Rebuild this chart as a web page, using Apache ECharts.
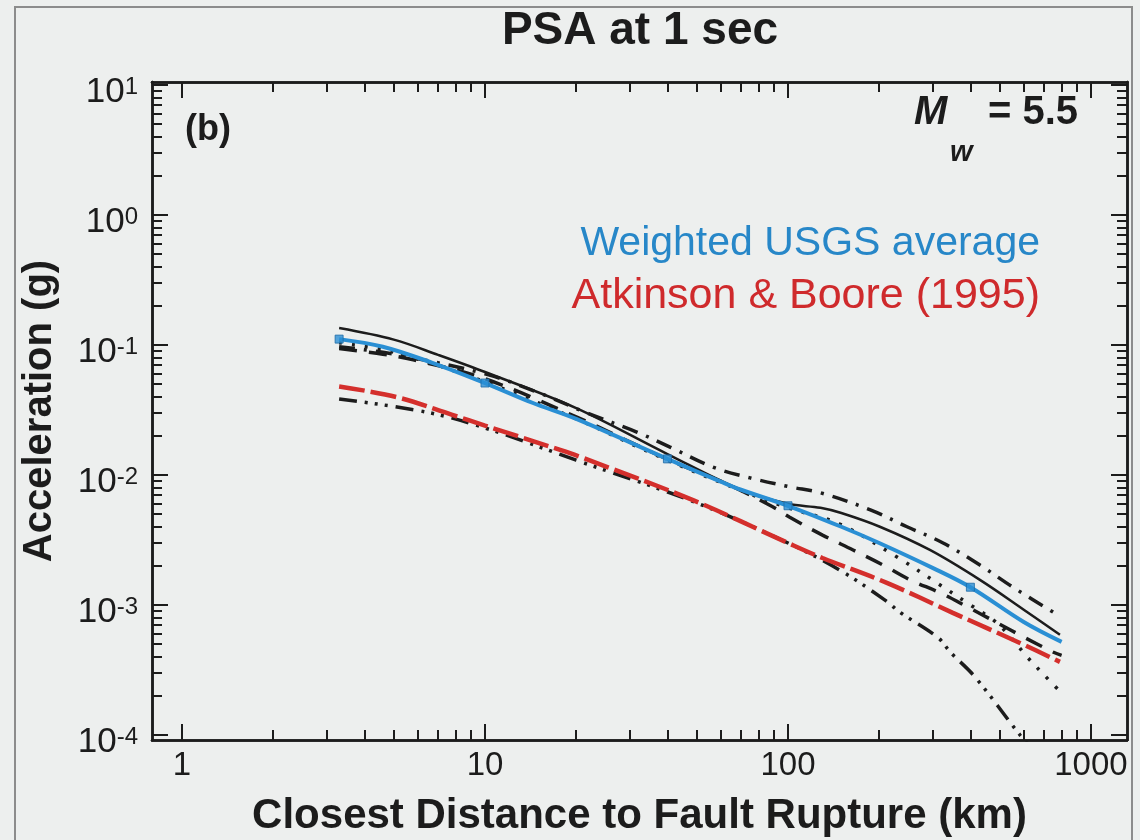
<!DOCTYPE html>
<html>
<head>
<meta charset="utf-8">
<title>PSA at 1 sec</title>
<script src="https://cdn.jsdelivr.net/npm/echarts@6.0.0/dist/echarts.min.js"></script>
<style>
  html, body { margin: 0; padding: 0; background: #edefee; }
  #chart { width: 1140px; height: 840px; }
</style>
</head>
<body>
<div id="chart"></div>
<script>
// ---- data: [distance (km), PSA (g)] ----
var usgsAverage = [
  [3.3, 0.111], [4.6, 0.097], [6.7, 0.073], [10, 0.051], [14.4, 0.0358], [20, 0.027],
  [40, 0.0133], [60, 0.0089], [70, 0.0077], [100, 0.0058], [150, 0.0040], [200, 0.0030],
  [300, 0.00193], [400, 0.00137], [600, 0.00074], [800, 0.00052]
];
var usgsMarkerDist = [3.3, 10, 40, 100, 400];

var atkinsonBoore = [
  [3.3, 0.048], [5.1, 0.0398], [7.8, 0.029], [10, 0.024], [17.7, 0.0156], [20.6, 0.0138],
  [48.6, 0.0064], [100, 0.0030], [130, 0.0023], [212, 0.00148], [350, 0.00087],
  [583, 0.00051], [790, 0.000365]
];

var modelSolid = [
  [3.3, 0.135], [5, 0.11], [7, 0.084], [10, 0.062], [20, 0.0327], [40, 0.0145], [70, 0.0077],
  [100, 0.0060], [128, 0.0056], [150, 0.0051], [201, 0.0040], [294, 0.00265], [430, 0.00156],
  [600, 0.00092], [790, 0.00059]
];

var modelDashed = [
  [3.3, 0.094], [4.6, 0.085], [5.8, 0.077], [10, 0.055], [20, 0.028], [40, 0.0132], [63, 0.0085],
  [89, 0.0057], [101, 0.00475], [130, 0.00345], [164, 0.00265], [206, 0.00203], [253, 0.00156],
  [318, 0.00124], [390, 0.00097], [490, 0.00073], [597, 0.00057], [749, 0.000435], [800, 0.00041]
];

var modelDashDot = [
  [3.3, 0.097], [5, 0.085], [10, 0.06], [15, 0.043], [21.7, 0.030], [31.7, 0.0214], [40.8, 0.0164],
  [56.5, 0.0115], [75, 0.0095], [101.6, 0.0081], [128, 0.0073], [187, 0.0054], [247, 0.0040],
  [325, 0.0030], [430, 0.00203], [553, 0.00137], [790, 0.00082]
];

var modelDotted = [
  [3.3, 0.104], [5, 0.088], [10, 0.052], [20, 0.027], [40, 0.013], [70, 0.0076], [100, 0.0056],
  [148, 0.0042], [229, 0.00234], [310, 0.00148], [400, 0.00100], [475, 0.00077], [528, 0.00061],
  [615, 0.00040], [700, 0.00029], [800, 0.00021]
];

var modelDashDotDot = [
  [3.3, 0.0385], [6.4, 0.0305], [10, 0.023], [20, 0.013], [50, 0.0061], [100, 0.0030],
  [148, 0.00186], [209, 0.00109], [234, 0.00088], [313, 0.00056], [343, 0.000435],
  [414, 0.00028], [583, 0.0001], [650, 0.000075]
];

// ---- ticks ----
var xMajorTicks = [1, 10, 100, 1000];
var yMajorTicks = [1e-4, 1e-3, 1e-2, 1e-1, 1, 10];
var xMinorTicks = [];
[1, 10, 100].forEach(function (d) { for (var k = 2; k <= 9; k++) xMinorTicks.push(d * k); });
var yMinorTicks = [];
[1e-4, 1e-3, 1e-2, 1e-1, 1].forEach(function (d) { for (var k = 2; k <= 9; k++) yMinorTicks.push(+(d * k).toPrecision(3)); });

var X_MIN = 0.796, X_MAX = 1315;
var Y_MIN = 9.15e-5, Y_MAX = 10.55;

var FONT = 'Liberation Sans, Arial, Helvetica, sans-serif';
var INK = '#1c1c1c';
var BLUE = '#2a8fd4';
var RED = '#d42f2c';

function logAxis(pos, min, max, ticks, len, extra) {
  var ax = {
    type: 'log',
    logBase: 10,
    position: pos,
    min: min,
    max: max,
    axisLine: { show: true, onZero: false, lineStyle: { color: INK, width: 2.5 } },
    axisTick: { show: true, inside: true, length: len, customValues: ticks,
                lineStyle: { color: INK, width: 2 } },
    axisLabel: { show: false },
    splitLine: { show: false },
    minorTick: { show: false },
    minorSplitLine: { show: false }
  };
  return Object.assign(ax, extra || {});
}

var xLabel = {
  show: true,
  customValues: xMajorTicks,
  margin: 9,
  color: INK,
  fontFamily: FONT,
  fontSize: 33,
  formatter: function (v) { return String(Math.round(v)); }
};

var yLabel = {
  show: true,
  customValues: yMajorTicks,
  margin: 14,
  padding: [14, 0, 0, 0],
  formatter: function (v) {
    var e = Math.round(Math.log10(v));
    return '{b|10}{s|' + e + '}';
  },
  rich: {
    b: { fontSize: 35, lineHeight: 34, color: INK, fontFamily: FONT },
    s: { fontSize: 24, lineHeight: 16, verticalAlign: 'top', color: INK, fontFamily: FONT }
  }
};

var markerData = usgsMarkerDist.map(function (d) {
  return usgsAverage.filter(function (p) { return p[0] === d; })[0];
});

function lineSeries(name, data, color, width, type, z) {
  return {
    name: name,
    type: 'line',
    data: data,
    smooth: 0.35,
    showSymbol: false,
    symbol: 'none',
    clip: true,
    z: z,
    lineStyle: { color: color, width: width, type: type, cap: 'butt' }
  };
}

var chart = echarts.init(document.getElementById('chart'));
chart.setOption({
  animation: false,
  backgroundColor: '#edefee',
  grid: { left: 152, right: 13, top: 82, bottom: 100, containLabel: false, outerBoundsMode: 'none' },
  xAxis: [
    logAxis('bottom', X_MIN, X_MAX, xMajorTicks, 16, {
      axisLabel: xLabel,
      name: 'Closest Distance to Fault Rupture (km)',
      nameLocation: 'middle',
      nameGap: 55,
      nameTextStyle: { fontFamily: FONT, fontSize: 42, fontWeight: 'bold', color: INK }
    }),
    logAxis('bottom', X_MIN, X_MAX, xMinorTicks, 10),
    logAxis('top', X_MIN, X_MAX, xMajorTicks, 16),
    logAxis('top', X_MIN, X_MAX, xMinorTicks, 10)
  ],
  yAxis: [
    logAxis('left', Y_MIN, Y_MAX, yMajorTicks, 16, {
      axisLabel: yLabel,
      name: 'Acceleration (g)',
      nameLocation: 'middle',
      nameGap: 92,
      nameTextStyle: { fontFamily: FONT, fontSize: 40, fontWeight: 'bold', color: INK }
    }),
    logAxis('left', Y_MIN, Y_MAX, yMinorTicks, 10),
    logAxis('right', Y_MIN, Y_MAX, yMajorTicks, 16),
    logAxis('right', Y_MIN, Y_MAX, yMinorTicks, 10)
  ],
  series: [
    lineSeries('model A', modelSolid, INK, 2.5, 'solid', 2),
    lineSeries('model B', modelDashed, INK, 3.5, [18, 12], 2),
    lineSeries('model C', modelDashDot, INK, 3.5, [16, 9, 3, 9], 2),
    lineSeries('model D', modelDotted, INK, 3.5, [3, 10], 2),
    lineSeries('model E', modelDashDotDot, INK, 3.5, [18, 8, 3, 7, 3, 7, 3, 8], 2),
    lineSeries('Atkinson & Boore (1995)', atkinsonBoore, RED, 4.5, [26, 6], 3),
    lineSeries('Weighted USGS average', usgsAverage, BLUE, 4, 'solid', 4),
    {
      name: 'USGS markers',
      type: 'scatter',
      data: markerData,
      symbol: 'rect',
      symbolSize: 8,
      z: 5,
      itemStyle: { color: BLUE, borderColor: '#1d6aa6', borderWidth: 1 }
    }
  ],
  graphic: [
    { type: 'rect', silent: true, z: -1,
      shape: { x: 15, y: 7, width: 1117, height: 840 },
      style: { fill: null, stroke: '#8c8c8c', lineWidth: 2 } },
    { type: 'text', x: 640, y: 31, z: 10,
      style: { text: 'PSA at 1 sec', font: 'bold 46px ' + FONT, fill: INK,
               textAlign: 'center', textVerticalAlign: 'middle' } },
    { type: 'text', x: 185, y: 130, z: 10,
      style: { text: '(b)', font: 'bold 36px ' + FONT, fill: INK,
               textAlign: 'left', textVerticalAlign: 'middle' } },
    { type: 'text', x: 914, y: 113, z: 10,
      style: { text: 'M', font: 'italic bold 40px ' + FONT, fill: INK,
               textAlign: 'left', textVerticalAlign: 'middle' } },
    { type: 'text', x: 950, y: 153, z: 10,
      style: { text: 'w', font: 'italic bold 29px ' + FONT, fill: INK,
               textAlign: 'left', textVerticalAlign: 'middle' } },
    { type: 'text', x: 1078, y: 113, z: 10,
      style: { text: '= 5.5', font: 'bold 40px ' + FONT, fill: INK,
               textAlign: 'right', textVerticalAlign: 'middle' } },
    { type: 'text', x: 1040, y: 244, z: 10,
      style: { text: 'Weighted USGS average', font: '41px ' + FONT, fill: '#2787c8',
               textAlign: 'right', textVerticalAlign: 'middle' } },
    { type: 'text', x: 1040, y: 296, z: 10,
      style: { text: 'Atkinson & Boore (1995)', font: '43px ' + FONT, fill: '#cf2a2c',
               textAlign: 'right', textVerticalAlign: 'middle' } }
  ]
});
</script>
</body>
</html>
